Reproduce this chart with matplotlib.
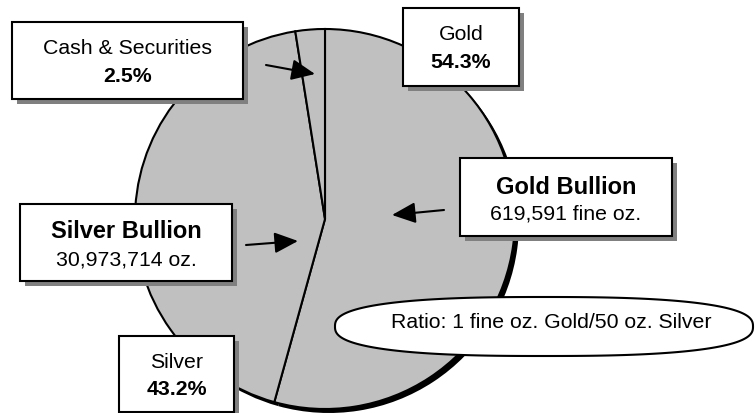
import numpy as np
import matplotlib
matplotlib.use("Agg")
import matplotlib.pyplot as plt
from matplotlib.patches import Rectangle, PathPatch, FancyArrowPatch
from matplotlib.path import Path

# ---------------------------------------------------
# DATA
# ---------------------------------------------------
slice_names = ["Gold", "Silver", "Cash & Securities"]
slice_values = [54.3, 43.2, 2.5]
slice_labels = ["54.3%", "43.2%", "2.5%"]

bullion_titles = ["Gold Bullion", "Silver Bullion"]
bullion_amounts = ["619,591 fine oz.", "30,973,714 oz."]
ratio_text = "Ratio: 1 fine oz. Gold/50 oz. Silver"

# ---------------------------------------------------
# FIGURE (axes in pixel units, y measured from the bottom)
# ---------------------------------------------------
W, H = 755, 414
fig = plt.figure(figsize=(W / 100, H / 100), dpi=100)
ax = fig.add_axes([0, 0, 1, 1])
plt.rcParams["font.family"] = ["Liberation Sans", "DejaVu Sans"]

def py(y):
    return H - y

LW = 1.5
FS = 15.3
FS_BIG = 17

# pie shadow, then the pie itself
cx, cy, r = 325, py(220), 190
ax.pie(slice_values, startangle=90, counterclock=False,
       center=(cx + 4, cy - 4), radius=r, colors=["black"] * 3,
       wedgeprops=dict(linewidth=0), frame=True)
ax.pie(slice_values, startangle=90, counterclock=False,
       center=(cx, cy), radius=r, colors=["#c0c0c0"] * 3,
       wedgeprops=dict(edgecolor="black", linewidth=LW), frame=True)

ax.set_xlim(0, W)
ax.set_ylim(0, H)
ax.set_aspect("equal")
ax.axis("off")

def shadow_box(x0, y0, x1, y1, lines):
    # grey drop shadow, white box, then the text lines
    ax.add_patch(Rectangle((x0 + 5, py(y1) - 5), x1 - x0, y1 - y0,
                           facecolor="#808080", edgecolor="none", zorder=5))
    ax.add_patch(Rectangle((x0, py(y1)), x1 - x0, y1 - y0,
                           facecolor="white", edgecolor="black",
                           linewidth=LW, zorder=6))
    for text, ty, size, weight in lines:
        ax.text((x0 + x1) / 2, py(ty), text, ha="center", va="center",
                fontsize=size, fontweight=weight, zorder=7)

shadow_box(12, 23, 243, 100, [(slice_names[2], 49, FS, "normal"),
                              (slice_labels[2], 76, FS, "bold")])
shadow_box(403, 9, 519, 87, [(slice_names[0], 35, FS, "normal"),
                             (slice_labels[0], 62, FS, "bold")])
shadow_box(119, 337, 234, 412.5, [(slice_names[1], 363, FS, "normal"),
                                  (slice_labels[1], 390, FS, "bold")])
shadow_box(20, 205, 232, 282, [(bullion_titles[1], 232, FS_BIG, "bold"),
                               (bullion_amounts[1], 260, FS, "normal")])
shadow_box(460, 159, 672, 237, [(bullion_titles[0], 187, FS_BIG, "bold"),
                                (bullion_amounts[0], 214, FS, "normal")])

# arrows
for tail, tip in [((266, 66), (315, 75)),
                  ((246, 246), (298, 242)),
                  ((444, 211), (392, 216))]:
    ax.add_patch(FancyArrowPatch((tail[0], py(tail[1])), (tip[0], py(tip[1])),
                                 arrowstyle="-|>,head_length=0.9,head_width=0.4",
                                 mutation_scale=16, color="black",
                                 linewidth=LW, zorder=4, shrinkA=0, shrinkB=0))

# ratio callout (flattened ellipse)
ex, ey, ea, eb, n = 544, py(327.5), 209, 29.5, 2.6
t = np.linspace(0, 2 * np.pi, 400)
xs = ex + ea * np.sign(np.cos(t)) * np.abs(np.cos(t)) ** (2 / n)
ys = ey + eb * np.sign(np.sin(t)) * np.abs(np.sin(t)) ** (2 / n)
ax.add_patch(PathPatch(Path(np.column_stack([xs, ys])), facecolor="white",
                       edgecolor="black", linewidth=LW, zorder=6))
ax.text(551, py(323), ratio_text, ha="center", va="center",
        fontsize=FS, zorder=7)

fig.savefig("out.png", dpi=100)
